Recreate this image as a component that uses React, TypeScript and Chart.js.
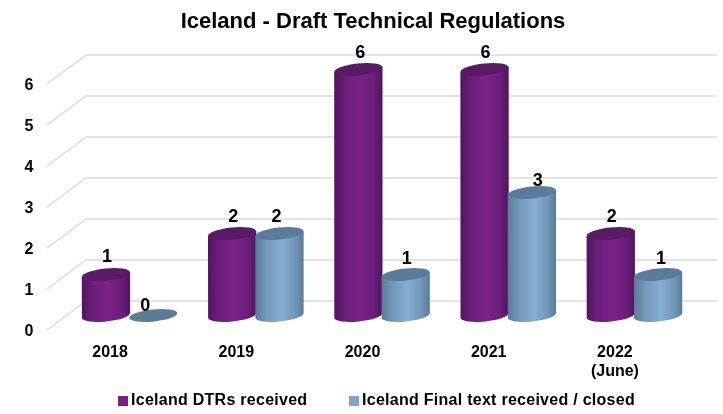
import React, { useEffect, useRef } from "react";
import { Chart, registerables } from "chart.js";

Chart.register(...registerables);

const categories: (string | string[])[] = ["2018", "2019", "2020", "2021", ["2022", "(June)"]];
const dtrsReceived = [1, 2, 6, 6, 2];
const finalText = [0, 2, 1, 3, 1];
const FONT = "'Liberation Sans', Arial, sans-serif";

const depthX = 39;
const depthY = 29;

const palettes = [
  { legend: "#762282", top: "#591a66", edge: "#521460", soft: "#6a1e7a", mid: "#7b2289" },
  { legend: "#7fa5ca", top: "#5b7b99", edge: "#5a7b98", soft: "#7397ba", mid: "#86add4" },
];

// hand placement of the value labels relative to the top of each cylinder
const labelNudge = [
  [[1, -17], [1, -16], [2, -16], [1, -16], [1, -16]],
  [[-8, -9], [-3, -16], [1, -15], [6, -11], [3, -15]],
];

const cylinderPlugin = {
  id: "cylinders",
  beforeDatasetsDraw(chart: any) {
    const { ctx, chartArea, scales } = chart;
    const y = scales.y;
    ctx.save();
    ctx.strokeStyle = "#e3e3e3";
    ctx.lineWidth = 1.8;
    y.ticks.forEach((t: any) => {
      const py = y.getPixelForValue(t.value);
      ctx.beginPath();
      ctx.moveTo(chartArea.left, py);
      ctx.lineTo(chartArea.left + depthX, py - depthY);
      ctx.lineTo(chartArea.right + depthX, py - depthY);
      ctx.stroke();
    });
    ctx.restore();
  },
  beforeDatasetDraw() {
    return false;
  },
  afterDatasetsDraw(chart: any) {
    const { ctx } = chart;
    const shiftX = depthX / 2;
    const shiftY = depthY / 2;
    const tilt = (-6 * Math.PI) / 180;
    chart.data.datasets.forEach((ds: any, di: number) => {
      const p = palettes[di];
      chart.getDatasetMeta(di).data.forEach((bar: any, i: number) => {
        const cx = bar.x + shiftX;
        const rx = bar.width / 2 + 0.5;
        const ry = 6;
        const top = bar.y - shiftY;
        const base = bar.base - shiftY;
        ctx.save();
        if (ds.data[i] > 0) {
          const g = ctx.createLinearGradient(cx - rx, 0, cx + rx, 0);
          g.addColorStop(0, p.edge);
          g.addColorStop(0.22, p.soft);
          g.addColorStop(0.55, p.mid);
          g.addColorStop(0.82, p.soft);
          g.addColorStop(1, p.edge);
          ctx.fillStyle = g;
          ctx.beginPath();
          const dy = rx * Math.sin(tilt);
          ctx.moveTo(cx - rx, top - dy);
          ctx.lineTo(cx + rx, top + dy);
          ctx.lineTo(cx + rx, base + dy);
          ctx.ellipse(cx, base, rx, ry, tilt, 0, Math.PI);
          ctx.lineTo(cx - rx, top - dy);
          ctx.closePath();
          ctx.fill();
        }
        ctx.fillStyle = p.top;
        ctx.beginPath();
        ctx.ellipse(cx, top, rx, ry, tilt, 0, Math.PI * 2);
        ctx.fill();
        const [nx, ny] = labelNudge[di][i];
        ctx.fillStyle = "#000";
        ctx.font = `bold 18px ${FONT}`;
        ctx.textAlign = "center";
        ctx.textBaseline = "middle";
        ctx.fillText(String(ds.data[i]), cx + nx, top + ny);
        ctx.restore();
      });
    });
    // legend row, read from the datasets
    ctx.save();
    ctx.font = `bold 16px ${FONT}`;
    ctx.textBaseline = "middle";
    ctx.textAlign = "left";
    (ctx as any).letterSpacing = "0.27px";
    const starts = [118, 349];
    chart.data.datasets.forEach((ds: any, di: number) => {
      const x = starts[di];
      ctx.fillStyle = ds.backgroundColor;
      ctx.fillRect(x, 396, 10, 10);
      ctx.fillStyle = "#000";
      ctx.fillText(ds.label, x + 13, 401);
    });
    ctx.restore();
  },
};

export default function App() {
  const ref = useRef<HTMLCanvasElement | null>(null);
  useEffect(() => {
    const chart = new Chart(ref.current!, {
      type: "bar",
      data: {
        labels: categories as any,
        datasets: [
          { label: "Iceland DTRs received", data: dtrsReceived, backgroundColor: palettes[0].legend, categoryPercentage: 0.75, barPercentage: 1 },
          { label: "Iceland Final text received / closed", data: finalText, backgroundColor: palettes[1].legend, categoryPercentage: 0.75, barPercentage: 1 },
        ],
      },
      options: {
        responsive: false,
        animation: false,
        layout: { padding: { left: 23, right: 0, top: 0, bottom: 0 } },
        plugins: {
          tooltip: { enabled: false },
          legend: { display: false },
          title: {
            display: true,
            text: "Iceland - Draft Technical Regulations",
            color: "#000",
            font: { family: FONT, size: 22, weight: "bold" },
            padding: { top: 9, bottom: 48.6 },
          },
        },
        scales: {
          x: {
            grid: { display: false },
            border: { display: false },
            ticks: { color: "#000", maxRotation: 0, padding: 4.5, font: { family: FONT, size: 16, weight: "bold" } },
            afterFit: (s: any) => { s.height = 84; },
          },
          y: {
            min: 0,
            max: 6,
            grid: { display: false },
            border: { display: false },
            ticks: { color: "#000", stepSize: 1, padding: 5.5, labelOffset: 2, font: { family: FONT, size: 16, weight: "bold" } },
            afterFit: (s: any) => { s.width = 24; },
          },
          yRightGap: {
            position: "right",
            min: 0,
            max: 6,
            grid: { display: false },
            border: { display: false },
            ticks: { display: false },
            afterFit: (s: any) => { s.width = 45; },
          },
        },
      },
      plugins: [cylinderPlugin],
    } as any);
    return () => chart.destroy();
  }, []);
  return (
    <div style={{ position: "fixed", left: 0, top: 0, background: "#fff" }}>
      <canvas ref={ref} width={723} height={414} style={{ display: "block" }} />
    </div>
  );
}
